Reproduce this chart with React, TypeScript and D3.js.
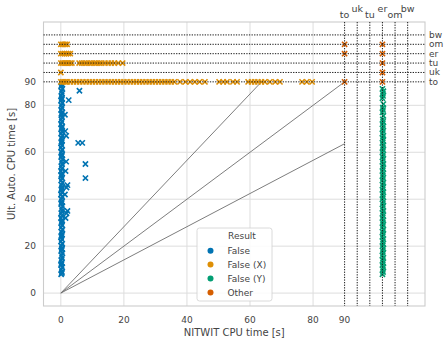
import React from "react";
import * as d3 from "d3";

// ---------- data ----------
const specialNames = ["to", "uk", "tu", "er", "om", "bw"];
const specialValues = [90, 94, 98, 102, 106, 110];

const xTicks = [0, 20, 40, 60, 80, 90];
const yTicks = [0, 20, 40, 60, 80, 90];
const gridTicks = [0, 20, 40, 60, 80];

const seriesNames = ["False", "False (X)", "False (Y)", "Other"];
const seriesColors = ["#0173b2", "#de8f05", "#029e73", "#d55e00"];

// Result = False (blue)
const falsePts: [number, number][] = [
  [0.1, 8], [0.35, 9], [0.2, 10], [0.45, 11], [0.05, 12], [0.3, 13], [0.15, 14], [0.4, 15], [0.25, 16], [0.5, 17],
  [0.1, 18], [0.35, 19], [0.2, 20], [0.45, 21], [0.05, 22], [0.3, 23], [0.15, 24], [0.4, 25], [0.25, 26], [0.5, 27],
  [0.1, 28], [0.35, 29], [0.2, 30], [0.45, 31], [0.05, 32], [0.3, 33], [0.15, 34], [0.4, 35], [0.25, 36], [0.5, 37],
  [0.1, 38], [0.35, 39], [0.2, 40], [0.45, 41], [0.05, 42], [0.3, 43], [0.15, 44], [0.4, 45], [0.25, 46], [0.5, 47],
  [0.1, 48], [0.35, 49], [0.2, 50], [0.45, 51], [0.05, 52], [0.3, 53], [0.15, 54], [0.4, 55], [0.25, 56], [0.5, 57],
  [0.1, 58], [0.35, 59], [0.2, 60], [0.45, 61], [0.05, 62], [0.3, 63], [0.15, 64], [0.4, 65], [0.25, 66], [0.5, 67],
  [0.1, 68], [0.35, 69], [0.2, 70], [0.45, 71], [0.05, 72], [0.3, 73], [0.15, 74], [0.4, 75], [0.25, 76], [0.5, 77],
  [0.1, 78], [0.35, 79], [0.2, 80], [0.45, 81], [0.05, 82], [0.3, 83], [0.15, 84], [0.4, 85], [0.25, 86], [0.5, 87],
  [0.1, 88], [0.35, 89], [0.3, 8.5], [0.2, 12.5], [0.3, 18.5], [0.2, 24.5], [0.3, 30.5], [0.2, 38.5], [0.3, 44.5],
  [0.2, 50.5], [0.3, 58.5], [0.2, 64.5], [0.3, 70.5], [0.2, 76.5], [0.3, 82.5], [0.2, 88.5],
  [5.9, 86.2], [2.5, 82.2], [1.3, 76], [5.5, 64], [6.8, 64], [7.8, 55], [7.8, 49], [1.7, 67], [1.4, 69],
  [1.7, 56], [1.5, 52], [2.1, 46], [1.8, 45], [1.3, 42], [2.1, 35], [1.8, 34], [1.5, 32],
];

// Result = False (X) (orange)
const falseXPts: [number, number][] = [
  [0, 106], [0.5, 106], [1, 106], [1.5, 106], [2, 106],
  [0, 102], [0.6, 102], [1.2, 102], [1.8, 102], [2.4, 102], [3, 102],
  [0, 98], [0.5, 98], [1, 98], [1.5, 98], [2, 98], [2.5, 98], [3, 98], [3.5, 98],
  [5.8, 98], [6.6, 98], [7.4, 98], [8.2, 98], [9, 98], [9.8, 98], [10.6, 98], [11.4, 98], [12.2, 98],
  [13, 98], [14, 98], [15, 98], [16, 98], [17, 98], [18.2, 98], [19.6, 98],
  [0, 94],
  [0, 90], [0.5, 90], [1, 90], [1.5, 90], [2, 90], [3, 90], [4, 90], [5, 90], [6, 90], [7, 90], [8, 90],
  [9, 90], [10, 90], [11, 90], [12, 90], [13, 90], [14, 90], [15, 90], [16, 90], [17, 90], [18, 90],
  [19, 90], [20, 90], [21, 90], [22, 90], [23, 90], [24, 90], [25, 90], [26, 90], [27, 90], [28, 90],
  [29, 90], [30, 90], [31, 90], [32, 90], [33, 90], [34, 90], [35, 90], [36, 90], [37.8, 90], [39.5, 90],
  [41, 90], [42.5, 90], [44, 90], [45.7, 90], [50.2, 90], [51.5, 90], [52.7, 90], [54.6, 90], [55.9, 90],
  [59.4, 90], [60.5, 90], [61.5, 90], [62.5, 90], [63.6, 90], [64.7, 90], [66.3, 90], [68, 90], [69.5, 90],
  [76.5, 90], [78, 90], [79.7, 90],
];

// Result = False (Y) (green)
const falseYPts: [number, number][] = [
  [102, 8], [102.2, 9], [102.1, 10], [102.3, 11], [102, 12], [102.2, 13], [102.1, 14], [102.3, 15], [102, 16],
  [102.2, 17], [102.1, 18], [102.3, 19], [102, 20], [102.2, 21], [102.1, 22], [102.3, 23], [102, 24], [102.2, 25],
  [102.1, 26], [102.3, 27], [102, 28], [102.2, 29], [102.1, 30], [102.3, 31], [102, 32], [102.2, 33], [102.1, 34],
  [102.3, 35], [102, 36], [102.2, 37], [102.1, 38], [102.3, 39], [102, 40], [102.2, 41], [102.1, 42], [102.3, 43],
  [102, 44], [102.2, 45], [102.1, 46], [102.3, 47], [102, 48], [102.2, 49], [102.1, 50], [102.3, 51], [102, 52],
  [102.2, 53], [102.1, 54], [102.3, 55], [102, 56], [102.2, 57], [102.1, 58], [102.3, 59], [102, 60], [102.2, 61],
  [102.1, 62], [102.3, 63], [102, 64], [102.2, 65], [102.1, 66], [102.3, 67], [102, 68], [102.2, 69], [102.1, 70],
  [102.3, 71], [102, 72], [102.2, 73], [102.1, 74], [102.3, 75.5], [102, 77], [102.2, 78], [102.1, 79], [102.3, 80.5],
  [102, 83], [102.2, 84], [102.1, 85], [102.3, 86], [102, 87],
];

// Result = Other (red-orange)
const otherPts: [number, number][] = [
  [90, 90], [90, 102], [90, 106],
  [102, 90], [102, 94], [102, 98], [102, 102], [102, 106],
];

const seriesData = [falsePts, falseXPts, falseYPts, otherPts];

// reference lines from origin (slopes)
const refSlopes = [Math.SQRT2, 1, Math.SQRT1_2];
const refCap = 90;

// ---------- chart ----------
const W = 448;
const H = 346;
const L = 43.5, R = 425, T = 22, B = 306;
const FONT = "DejaVu Sans, sans-serif";
const TEXT = "#444444";

export default function App() {
  const x = d3.scaleLinear().domain([-5.5, 115.5]).range([L, R]);
  const y = d3.scaleLinear().domain([-5.5, 115.5]).range([B, T]);
  const ms = 2.6;

  const line = d3.line<[number, number]>().x((d) => x(d[0])).y((d) => y(d[1]));

  const refLines = refSlopes.map((s) => {
    const end: [number, number] = s >= 1 ? [refCap / s, refCap] : [refCap, refCap * s];
    return line([[0, 0], end]) as string;
  });

  const legendItems = seriesNames.map((n, i) => ({ n, c: seriesColors[i] }));

  return (
    <svg width={W} height={H} style={{ position: "absolute", left: 0, top: 0, background: "#fff" }}>
      <rect x={0} y={0} width={W} height={H} fill="#fff" />
      {/* grid */}
      {gridTicks.map((t) => (
        <line key={"gx" + t} x1={x(t)} x2={x(t)} y1={T} y2={B} stroke="#dddddd" strokeWidth={1} />
      ))}
      {gridTicks.map((t) => (
        <line key={"gy" + t} x1={L} x2={R} y1={y(t)} y2={y(t)} stroke="#dddddd" strokeWidth={1} />
      ))}
      {/* frame */}
      <rect x={L} y={T} width={R - L} height={B - T} fill="none" stroke="#cccccc" strokeWidth={1.1} />

      {/* reference lines */}
      {refLines.map((d, i) => (
        <path key={"ref" + i} d={d} stroke="#6e6e6e" strokeWidth={0.9} fill="none" />
      ))}

      {/* scatter */}
      {seriesData.map((pts, si) => (
        <g key={"s" + si} stroke={seriesColors[si]} strokeWidth={1.6} fill="none">
          {pts.map((p, i) => {
            const cx = x(p[0]);
            const cy = y(p[1]);
            return (
              <path
                key={i}
                d={`M${cx - ms},${cy - ms}L${cx + ms},${cy + ms}M${cx - ms},${cy + ms}L${cx + ms},${cy - ms}`}
              />
            );
          })}
        </g>
      ))}

      {/* dotted special lines */}
      {specialValues.map((v, i) => (
        <line key={"hs" + i} x1={L} x2={R} y1={y(v)} y2={y(v)} stroke="#1a1a1a" strokeWidth={1} strokeDasharray="1.3,1.3" />
      ))}
      {specialValues.map((v, i) => (
        <line key={"vs" + i} x1={x(v)} x2={x(v)} y1={T} y2={B} stroke="#1a1a1a" strokeWidth={1} strokeDasharray="1.3,1.3" />
      ))}

      {/* x tick labels */}
      {xTicks.map((t) => (
        <text key={"xt" + t} x={x(t)} y={323} fontSize={9} fontFamily={FONT} fill={TEXT} textAnchor="middle">
          {t}
        </text>
      ))}
      {/* y tick labels */}
      {yTicks.map((t) => (
        <text key={"yt" + t} x={36} y={y(t)} dy="0.35em" fontSize={9} fontFamily={FONT} fill={TEXT} textAnchor="end">
          {t}
        </text>
      ))}
      {/* top special labels */}
      {specialNames.map((n, i) => (
        <text key={"tn" + n} x={x(specialValues[i])} y={i % 2 === 0 ? 18 : 12} fontSize={9.5} fontFamily={FONT} fill={TEXT} textAnchor="middle">
          {n}
        </text>
      ))}
      {/* right special labels */}
      {specialNames.map((n, i) => (
        <text key={"rn" + n} x={429} y={y(specialValues[i])} dy="0.33em" fontSize={9} fontFamily={FONT} fill={TEXT} textAnchor="start">
          {n}
        </text>
      ))}

      {/* axis labels */}
      <text x={(L + R) / 2} y={336} fontSize={10} fontFamily={FONT} fill={TEXT} textAnchor="middle">
        NITWIT CPU time [s]
      </text>
      <text transform={`translate(15,${(T + B) / 2}) rotate(-90)`} fontSize={10} fontFamily={FONT} fill={TEXT} textAnchor="middle">
        Ult. Auto. CPU time [s]
      </text>

      {/* legend */}
      <g>
        <rect x={197} y={228} width={75} height={73} rx={2.5} fill="#ffffff" fillOpacity={0.85} stroke="#d0d0d0" strokeWidth={0.8} />
        <text x={242} y={236} dy="0.35em" fontSize={9} fontFamily={FONT} fill={TEXT} textAnchor="middle">
          Result
        </text>
        {legendItems.map((it, i) => (
          <g key={"lg" + i}>
            <circle cx={210.5} cy={250.7 + i * 13.9} r={3} fill={it.c} />
            <text x={227.5} y={250.7 + i * 13.9} dy="0.35em" fontSize={9} fontFamily={FONT} fill={TEXT}>
              {it.n}
            </text>
          </g>
        ))}
      </g>
    </svg>
  );
}
